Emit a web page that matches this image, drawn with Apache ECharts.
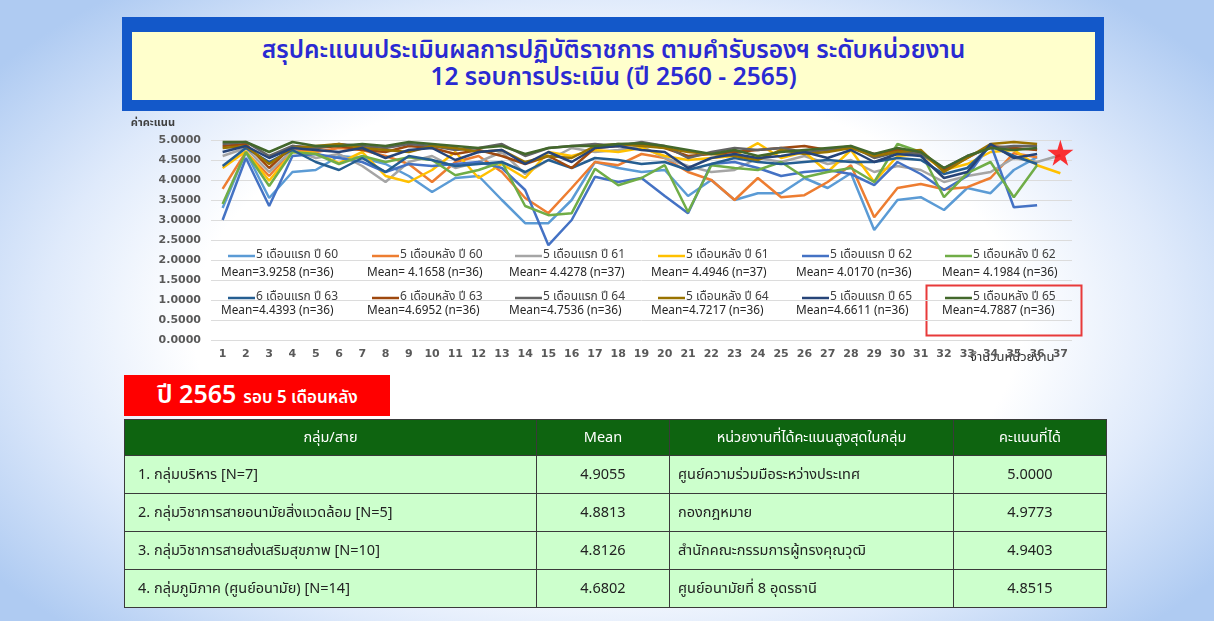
<!DOCTYPE html>
<html><head><meta charset="utf-8">
<script src="https://cdn.jsdelivr.net/npm/echarts@6/dist/echarts.min.js"></script>
<style>
html,body{margin:0;padding:0;width:1214px;height:621px;overflow:hidden;}
body{background:radial-gradient(ellipse 62% 70% at 50% 52%, #ffffff 55%, #dfeafb 75%, #afcbf2 100%);font-family:"Noto Sans Thai","Noto Sans Thai Looped","Noto Sans","DejaVu Sans",sans-serif;position:relative;}
#chart{position:absolute;left:0;top:0;width:1214px;height:621px;}
.tout{position:absolute;left:122px;top:17px;width:982px;height:94px;background:#1358c9;}
.tin{position:absolute;left:132px;top:32px;width:963px;height:68px;background:#ffffcc;color:#2a2ad2;font-weight:600;font-size:24.5px;line-height:27px;text-align:center;padding-top:5px;box-sizing:border-box;}
.red{position:absolute;left:124px;top:375px;width:266px;height:41px;background:#ff0000;color:#fff;font-weight:600;box-sizing:border-box;padding-left:33px;line-height:41px;white-space:nowrap;}
.red .big{font-size:25px;}
.red .sm{font-size:17px;margin-left:7px;}
table{position:absolute;left:124px;top:419px;width:982px;border-collapse:collapse;table-layout:fixed;font-size:14.5px;color:#222;}
td,th{border:1.5px solid #3a3a3a;padding:0;}
th{background:#0e6410;color:#fff;font-weight:normal;height:35px;}
td{background:#ccffcc;height:37px;}
.c1{padding-left:13px;text-align:left;}
.c2{text-align:center;}
.c3{padding-left:8px;text-align:left;}
.c4{text-align:center;}
th.c1,th.c3{text-align:center;padding-left:0;}
</style></head>
<body>
<div id="chart"></div>
<div class="tout"></div>
<div class="tin">สรุปคะแนนประเมินผลการปฏิบัติราชการ ตามคำรับรองฯ ระดับหน่วยงาน<br>12 รอบการประเมิน (ปี 2560 - 2565)</div>
<div class="red"><span class="big">ปี 2565</span><span class="sm">รอบ 5 เดือนหลัง</span></div>
<table>
<colgroup><col style="width:412px"><col style="width:133px"><col style="width:284px"><col style="width:153px"></colgroup>
<tr><th class="c1">กลุ่ม/สาย</th><th class="c2">Mean</th><th class="c3">หน่วยงานที่ได้คะแนนสูงสุดในกลุ่ม</th><th class="c4">คะแนนที่ได้</th></tr>
<tr><td class="c1">1. กลุ่มบริหาร [N=7]</td><td class="c2">4.9055</td><td class="c3">ศูนย์ความร่วมมือระหว่างประเทศ</td><td class="c4">5.0000</td></tr>
<tr><td class="c1">2. กลุ่มวิชาการสายอนามัยสิ่งแวดล้อม [N=5]</td><td class="c2">4.8813</td><td class="c3">กองกฎหมาย</td><td class="c4">4.9773</td></tr>
<tr><td class="c1">3. กลุ่มวิชาการสายส่งเสริมสุขภาพ [N=10]</td><td class="c2">4.8126</td><td class="c3">สำนักคณะกรรมการผู้ทรงคุณวุฒิ</td><td class="c4">4.9403</td></tr>
<tr><td class="c1">4. กลุ่มภูมิภาค (ศูนย์อนามัย) [N=14]</td><td class="c2">4.6802</td><td class="c3">ศูนย์อนามัยที่ 8 อุดรธานี</td><td class="c4">4.8515</td></tr>
</table>
<script>
const xLabels = ['1','2','3','4','5','6','7','8','9','10','11','12','13','14','15','16','17','18','19','20','21','22','23','24','25','26','27','28','29','30','31','32','33','34','35','36','37'];
const yTicks = {min:0, max:5, interval:0.5};

const seriesNames = ['5 เดือนแรก ปี 60','5 เดือนหลัง ปี 60','5 เดือนแรก ปี 61','5 เดือนหลัง ปี 61','5 เดือนแรก ปี 62','5 เดือนหลัง ปี 62','6 เดือนแรก ปี 63','6 เดือนหลัง ปี 63','5 เดือนแรก ปี 64','5 เดือนหลัง ปี 64','5 เดือนแรก ปี 65','5 เดือนหลัง ปี 65'];
const meanLabels = ['Mean=3.9258 (n=36)','Mean= 4.1658 (n=36)','Mean= 4.4278 (n=37)','Mean= 4.4946 (n=37)','Mean= 4.0170 (n=36)','Mean= 4.1984 (n=36)','Mean=4.4393 (n=36)','Mean=4.6952 (n=36)','Mean=4.7536 (n=36)','Mean=4.7217 (n=36)','Mean=4.6611 (n=36)','Mean=4.7887 (n=36)'];
const colors = ['#5b9bd5','#ed7d31','#a5a5a5','#ffc000','#4472c4','#70ad47','#255e91','#9e480e','#636363','#997300','#264478','#43682b'];

const s60a = [3.30,4.70,3.55,4.20,4.25,4.60,4.55,4.40,4.10,3.70,4.05,4.10,3.50,2.92,2.92,3.50,4.45,4.30,4.20,4.25,3.60,4.00,3.50,3.67,3.67,4.05,3.80,4.17,2.75,3.50,3.57,3.25,3.80,3.67,4.25,4.57];
const s60b = [3.78,4.70,4.10,4.75,4.70,4.80,4.75,4.60,4.40,3.95,4.45,4.60,4.20,3.55,3.17,3.80,4.45,4.37,4.65,4.55,4.20,4.00,3.50,4.05,3.57,3.62,3.95,4.37,3.07,3.80,3.90,3.77,3.82,4.05,4.67,4.57];
const s61a = [4.60,4.80,4.20,4.75,4.55,4.65,4.35,3.95,4.45,4.60,4.30,4.45,4.70,4.15,4.50,4.80,4.70,4.75,4.85,4.55,4.35,4.20,4.25,4.55,4.45,4.60,4.40,4.50,4.20,4.35,4.25,3.95,4.10,4.20,4.55,4.45,4.62];
const s61b = [4.30,4.72,3.98,4.70,4.68,4.42,4.70,4.10,3.95,4.25,4.70,4.05,4.40,4.05,4.70,4.60,4.75,4.70,4.80,4.60,4.50,4.55,4.60,4.92,4.55,4.70,4.20,4.75,3.95,4.60,4.65,4.25,4.40,4.70,4.75,4.37,4.17];
const s62a = [3.00,4.55,3.35,4.60,4.65,4.55,4.45,4.20,4.40,4.35,4.40,4.45,4.30,3.75,2.37,3.00,4.08,3.95,4.05,3.60,3.17,4.40,4.45,4.30,4.10,4.20,4.25,4.15,3.87,4.45,4.15,3.75,4.10,4.90,3.32,3.37];
const s62b = [3.40,4.70,3.85,4.70,4.65,4.40,4.60,4.45,4.57,4.50,4.12,4.25,4.45,3.35,3.12,3.17,4.28,3.87,4.05,4.37,3.20,4.37,4.30,4.25,4.45,4.07,4.20,4.30,3.95,4.90,4.70,3.57,4.17,4.45,3.57,4.37];
const s63a = [4.35,4.80,4.45,4.75,4.45,4.25,4.55,4.20,4.60,4.50,4.35,4.40,4.45,4.20,4.50,4.30,4.55,4.50,4.40,4.45,4.25,4.40,4.55,4.45,4.40,4.45,4.50,4.45,4.45,4.55,4.50,4.15,4.30,4.85,4.60,4.40];
const s63b = [4.85,4.90,4.30,4.85,4.80,4.85,4.75,4.70,4.85,4.80,4.65,4.75,4.60,4.40,4.60,4.30,4.80,4.85,4.90,4.80,4.60,4.65,4.70,4.75,4.80,4.85,4.75,4.80,4.65,4.75,4.70,4.25,4.55,4.85,4.80,4.75];
const s64a = [4.90,4.95,4.60,4.85,4.80,4.90,4.85,4.80,4.90,4.85,4.75,4.80,4.90,4.60,4.80,4.85,4.90,4.85,4.95,4.85,4.55,4.70,4.80,4.75,4.80,4.70,4.75,4.85,4.55,4.70,4.65,4.30,4.60,4.80,4.85,4.85];
const s64b = [4.80,4.85,4.40,4.80,4.85,4.90,4.80,4.75,4.70,4.85,4.80,4.70,4.75,4.45,4.60,4.55,4.85,4.90,4.85,4.80,4.70,4.65,4.60,4.50,4.75,4.65,4.70,4.80,4.60,4.70,4.75,4.20,4.55,4.90,4.95,4.90];
const s65a = [4.70,4.85,4.55,4.80,4.75,4.70,4.80,4.55,4.75,4.80,4.50,4.70,4.75,4.40,4.70,4.45,4.80,4.85,4.75,4.70,4.30,4.55,4.65,4.55,4.60,4.70,4.55,4.75,4.45,4.65,4.60,4.05,4.20,4.90,4.55,4.65];
const s65b = [4.95,4.95,4.70,4.95,4.85,4.85,4.90,4.85,4.95,4.90,4.85,4.80,4.85,4.65,4.80,4.85,4.85,4.90,4.92,4.85,4.75,4.65,4.75,4.60,4.70,4.75,4.80,4.85,4.65,4.80,4.70,4.30,4.60,4.80,4.75,4.80];
const seriesData = [s60a,s60b,s61a,s61b,s62a,s62b,s63a,s63b,s64a,s64b,s65a,s65b];
const starPoint = [['37', 4.68]];

const legendCols = [223, 367, 510, 653, 797, 940];
const legendRows = [245, 287];
const meanCols = [221, 367, 509, 651, 796, 942];
const meanRows = [268, 306];

const chart = echarts.init(document.getElementById('chart'), null, {renderer:'canvas'});
const fontFam = '"Noto Sans Thai","Noto Sans","DejaVu Sans",sans-serif';
const option = {
  animation:false,
  backgroundColor:'transparent',
  textStyle:{fontFamily:fontFam},
  grid:{left:211, right:142, top:140, bottom:281, containLabel:false},
  xAxis:{type:'category', data:xLabels, boundaryGap:true,
    axisLine:{show:false}, axisTick:{show:false},
    axisLabel:{color:'#595959', fontWeight:'bold', fontSize:11, margin:9, interval:0, fontFamily:'DejaVu Sans'}},
  yAxis:{type:'value', min:yTicks.min, max:yTicks.max, interval:yTicks.interval,
    name:'ค่าคะแนน', nameLocation:'end', nameGap:11,
    nameTextStyle:{align:'right', padding:[0,36,0,0], color:'#404040', fontWeight:'bold', fontSize:11},
    axisLine:{show:false}, axisTick:{show:false},
    axisLabel:{color:'#595959', fontWeight:'bold', fontSize:11, margin:10, fontFamily:'DejaVu Sans', formatter:v=>v.toFixed(4)},
    splitLine:{lineStyle:{color:'#dcdcdc', width:1}}},
  legend: seriesNames.map((n,i)=>({data:[n], left:legendCols[i%6], top:legendRows[Math.floor(i/6)],
    icon:'rect', itemWidth:27, itemHeight:2.5, selectedMode:false,
    textStyle:{fontSize:12, color:'#404040', padding:[0,0,0,-4]}})),
  graphic:[
    ...meanLabels.map((t,i)=>({type:'text', left:meanCols[i%6], top:meanRows[Math.floor(i/6)],
      style:{text:t, fontSize:11.8, fill:'#262626', fontFamily:fontFam}})),
    {type:'rect', left:924, top:283, shape:{width:155, height:50}, style:{fill:'none', stroke:'#e83a3a', lineWidth:2}},
    {type:'text', left:970, top:352, style:{text:'จำนวนหน่วยงาน', fontSize:13, fill:'#333', fontFamily:fontFam}}
  ],
  series:[
    ...seriesNames.map((n,i)=>({name:n, type:'line', data:seriesData[i], symbol:'none',
      lineStyle:{width:2.5, color:colors[i]}, itemStyle:{color:colors[i]}})),
    {type:'scatter', data:starPoint, symbol:'path://M50,0 L61,35 L98,35 L68,57 L79,91 L50,70 L21,91 L32,57 L2,35 L39,35 Z',
      symbolSize:26, itemStyle:{color:'#ff0000'}, z:5}
  ]
};
chart.setOption(option);
</script>
</body></html>
